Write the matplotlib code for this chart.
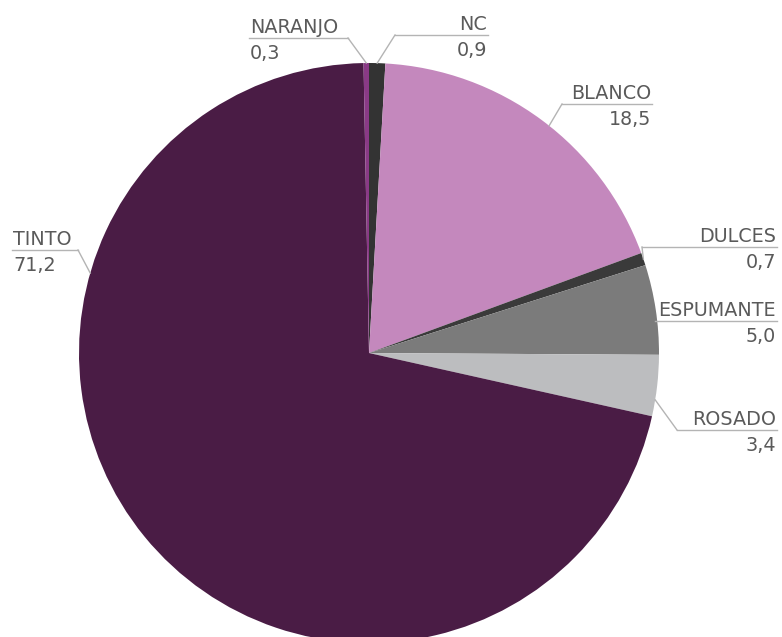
import numpy as np
import matplotlib.pyplot as plt

# Share by wine type (%), clockwise from the top
tipos = ['NC', 'BLANCO', 'DULCES', 'ESPUMANTE', 'ROSADO', 'TINTO', 'NARANJO']
valores = [0.9, 18.5, 0.7, 5.0, 3.4, 71.2, 0.3]
colores = ['#333333', '#c488bd', '#3a3a3a', '#7b7b7b', '#bcbdbf', '#4a1c45', '#8a3a86']

W, H = 782, 637
fig = plt.figure(figsize=(W / 100, H / 100), dpi=100)
ax = fig.add_axes([0, 0, 1, 1])

cx, cy, r = 369, H - 353, 290
wedges, _ = ax.pie(valores, colors=colores, startangle=90, counterclock=False,
                   center=(cx, cy), radius=r, frame=True)
ax.set_xlim(0, W)
ax.set_ylim(0, H)
ax.set_aspect('equal')
ax.axis('off')

# label layout: (line y in image px, line x0, line x1, text align, elbow x, anchor angle override)
layout = {
    'NARANJO':   (38, 249, 348, 'left', 348, None),
    'NC':        (35, 395, 488, 'right', 395, None),
    'BLANCO':    (104, 562, 652, 'right', 562, 51.6),
    'DULCES':    (247, 642, 777, 'right', 642, None),
    'ESPUMANTE': (321, 655, 777, 'right', 655, None),
    'ROSADO':    (430, 677, 777, 'right', 677, -9.3),
    'TINTO':     (250, 12, 78, 'left', 78, 164.0),
}

color_txt = '#5a5a5a'
color_line = '#b4b4b4'
fuente = dict(fontsize=13.8, family='DejaVu Sans', color=color_txt)
for w, nombre, v in zip(wedges, tipos, valores):
    ly, x0, x1, ha, ex, ang = layout[nombre]
    Y = H - ly
    if ang is None:
        ang = (w.theta1 + w.theta2) / 2
    px = cx + r * np.cos(np.radians(ang))
    py = cy + r * np.sin(np.radians(ang))
    ax.plot([x0, x1], [Y, Y], color=color_line, lw=1)
    if nombre != 'ESPUMANTE':
        ax.plot([ex, px], [Y, py], color=color_line, lw=1)
    tx = x0 + 1 if ha == 'left' else x1 - 1
    ax.text(tx, Y + 5, nombre, ha=ha, va='baseline', **fuente)
    ax.text(tx, Y - 21, f'{v:.1f}'.replace('.', ','), ha=ha, va='baseline', **fuente)

fig.savefig('out.png', dpi=100)
